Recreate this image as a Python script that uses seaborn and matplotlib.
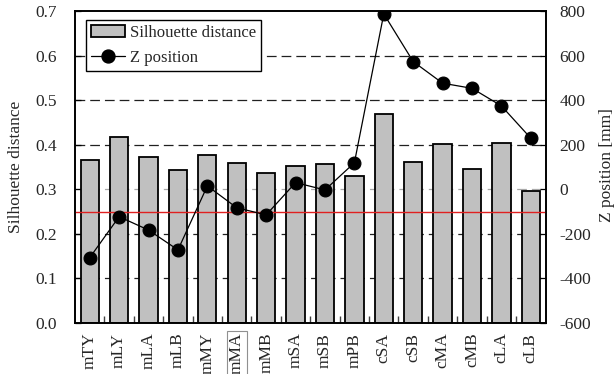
import numpy as np
import pandas as pd
import matplotlib
matplotlib.use("Agg")
import matplotlib.pyplot as plt
import seaborn as sns
from matplotlib.patches import Patch
from matplotlib.lines import Line2D
from matplotlib.ticker import FormatStrFormatter

categories = ["mTY", "mLY", "mLA", "mLB", "mMY", "mMA", "mMB", "mSA",
              "mSB", "mPB", "cSA", "cSB", "cMA", "cMB", "cLA", "cLB"]
silhouette = [0.366, 0.418, 0.373, 0.343, 0.377, 0.360, 0.337, 0.352,
              0.356, 0.330, 0.468, 0.362, 0.402, 0.345, 0.404, 0.297]
z_position = [-307, -123, -183, -272, 15, -83, -115, 30,
              -3, 119, 787, 573, 476, 453, 374, 229]
left_ticks = [0.0, 0.1, 0.2, 0.3, 0.4, 0.5, 0.6, 0.7]
right_ticks = [-600, -400, -200, 0, 200, 400, 600, 800]
threshold = 0.25

sns.set_theme(style="white")
plt.rcParams["font.family"] = ["Liberation Serif", "DejaVu Serif"]
plt.rcParams["lines.scale_dashes"] = False
plt.rcParams["axes.unicode_minus"] = False

df = pd.DataFrame({"cat": categories, "sil": silhouette, "z": z_position})

fig = plt.figure(figsize=(6.16, 3.74), dpi=100)
ax = fig.add_axes([0.1218, 0.1364, 0.7638, 0.8342])

# gridlines (behind bars)
for v in left_ticks[1:-1]:
    col = "#a8a8a8" if abs(v - 0.3) < 1e-9 else "#202020"
    ax.axhline(v, color=col, lw=0.9, linestyle=(0, (7.0, 3.6)), zorder=0.5)

sns.barplot(data=df, x="cat", y="sil", ax=ax, color="#c0c0c0",
            saturation=1, width=0.62, edgecolor="black", linewidth=1.3,
            zorder=2)
ax.axhline(threshold, color="#e02020", lw=1.0, zorder=3)

ax.set_xlim(-0.5, len(categories) - 0.5)
ax.set_ylim(0, 0.7)
ax.set_yticks(left_ticks)
ax.yaxis.set_major_formatter(FormatStrFormatter("%.1f"))
ax.set_xlabel("")
ax.set_ylabel("Silhouette distance", fontsize=12.5)
ax.yaxis.set_label_coords(-0.108, 0.5)
ax.set_xticks(range(len(categories)))
ax.set_xticklabels(categories, rotation=90, fontsize=12.5)
ax.tick_params(axis="x", which="major", length=0, pad=7)
ax.set_xticks(np.arange(0.5, len(categories) - 1, 1.0), minor=True)
ax.tick_params(axis="x", which="minor", direction="in", length=5,
               width=1.0, color="#404040", bottom=True)
ax.tick_params(axis="y", direction="in", length=4, width=0.9,
               color="black", labelsize=12.5, left=True, pad=13)
for s in ax.spines.values():
    s.set_color("black")
    s.set_linewidth(1.2)

for lbl in ax.get_xticklabels():
    if lbl.get_text() == "mMA":
        lbl.set_bbox(dict(facecolor="none", edgecolor="#909090",
                          linewidth=0.8, pad=1.5))

ax2 = ax.twinx()
sns.lineplot(x=np.arange(len(categories)), y=df["z"], ax=ax2,
             color="black", linewidth=0.9, marker="o", markersize=9.3,
             markeredgecolor="black", markerfacecolor="black", zorder=4)
ax2.set_ylim(-600, 800)
ax2.set_yticks(right_ticks)
ax2.set_ylabel("Z position [mm]", fontsize=12.5)
ax2.yaxis.set_label_coords(1.113, 0.505)
ax2.tick_params(axis="y", direction="in", length=4, width=0.9,
                color="black", labelsize=12.5, right=True, pad=10)
ax2.set_xlim(-0.5, len(categories) - 0.5)
for s in ax2.spines.values():
    s.set_color("black")
    s.set_linewidth(1.2)

handles = [Patch(facecolor="#c0c0c0", edgecolor="black", linewidth=1.3),
           Line2D([0], [0], color="black", lw=0.9, marker="o",
                  markersize=9.3)]
leg = ax2.legend(handles, ["Silhouette distance", "Z position"],
                 loc="upper left", bbox_to_anchor=(0.024, 0.972),
                 fontsize=12, frameon=True, fancybox=False,
                 framealpha=1, edgecolor="black", borderpad=0.3,
                 labelspacing=0.55, handlelength=2.0, handletextpad=0.3,
                 borderaxespad=0)
leg.get_frame().set_linewidth(1.0)

fig.savefig("out.png", dpi=100)
